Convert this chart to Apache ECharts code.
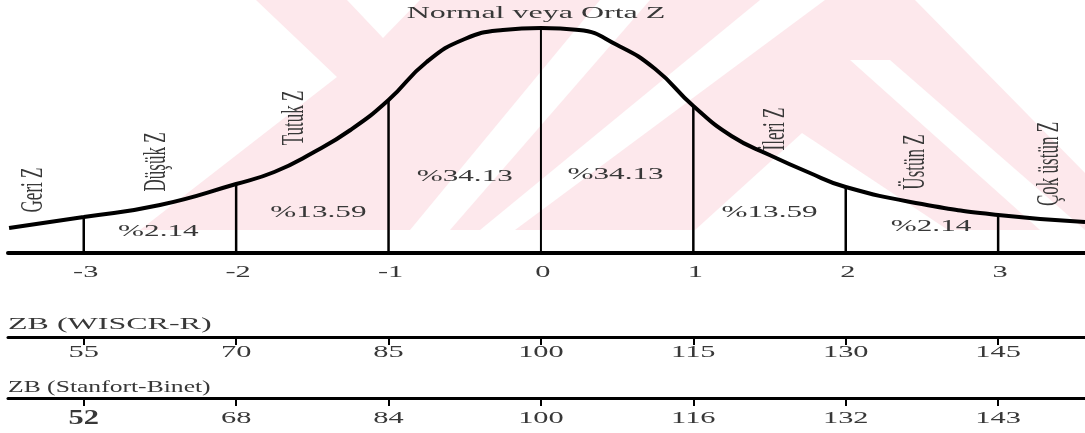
<!DOCTYPE html>
<html>
<head>
<meta charset="utf-8">
<script src="https://cdn.jsdelivr.net/npm/echarts@6/dist/echarts.min.js"></script>
<style>
  html, body { margin: 0; padding: 0; background: #fff; }
  #chart { width: 1085px; height: 433px; }
</style>
</head>
<body>
<div id="chart"></div>
<script>
// z puanları ve alt ölçekler
const zTicks = [-3, -2, -1, 0, 1, 2, 3];
const zLabels = ['-3', '-2', '-1', '0', '1', '2', '3'];
const wiscLabels = ['55', '70', '85', '100', '115', '130', '145'];
const sbLabels = ['52', '68', '84', '100', '116', '132', '143'];

// eğri (resimden okunan z / yükseklik)
const curveZ = [-3.49, -3, -2.5, -2, -1.75, -1.5, -1.25, -1, -0.75, -0.5, -0.25, 0, 0.25, 0.5, 0.75, 1, 1.25, 1.5, 1.75, 2, 2.5, 3, 3.57];
const curveH = [25, 36, 48, 69, 81, 100, 123, 153, 191, 214, 223, 225, 223, 208, 184, 147, 117, 98, 81, 66, 49, 38, 31];

// dikey çizgiler
const dividerH = [36, 69, 153, 225, 147, 66, 38];

// yüzdeler
const pctLabels = ['%2.14', '%13.59', '%34.13', '%34.13', '%13.59', '%2.14'];
const pctZ = [-2.51, -1.46, -0.50, 0.49, 1.50, 2.56];
const pctH = [21, 40, 76, 78, 40, 26];

// zeka grupları
const groupNames = ['Geri Z', 'Düşük Z', 'Tutuk Z', 'İleri Z', 'Üstün Z', 'Çok üstün Z'];
const groupZ = [-3.33, -2.52, -1.62, 1.54, 2.46, 3.34];
const groupH = [63, 91, 135, 124, 91, 89];

const zMin = -3.497, zMax = 3.57;
const FONT = '"Liberation Serif", "DejaVu Serif", serif';
const INK = '#383838';

// filigran
const pink = '#fde8ec';
const wmPink = [[256, 0], [915, 0], [1085, 173], [1085, 230], [140, 230], [337, 77]];
const wmWhite = [
  [[347, 0], [420, 0], [383, 38]],
  [[600, 0], [650, 0], [450, 230], [410, 230]],
  [[760, 0], [825, 0], [515, 230], [480, 230]],
  [[802, 133], [695, 230], [948, 230]],
  [[850, 60], [890, 60], [1085, 230], [1040, 230]]
];

function stretchedText(x, y, text, opts) {
  opts = opts || {};
  return {
    type: 'text', x: x, y: y,
    scaleX: opts.scaleX || 1, scaleY: opts.scaleY || 1,
    rotation: opts.rotation || 0,
    z: 5,
    style: {
      text: text,
      font: opts.font || ('16px ' + FONT),
      fill: INK,
      textAlign: opts.align || 'center',
      textVerticalAlign: 'middle'
    }
  };
}

const chart = echarts.init(document.getElementById('chart'));

const axisBase = {
  type: 'value', min: zMin, max: zMax,
  splitLine: { show: false },
  axisLabel: { show: false }
};

chart.setOption({
  animation: false,
  backgroundColor: '#fff',
  graphic: [
    { type: 'polygon', z: -10, shape: { points: wmPink }, style: { fill: pink } }
  ].concat(wmWhite.map(p => ({ type: 'polygon', z: -9, shape: { points: p }, style: { fill: '#fff' } })))
   .concat([
    stretchedText(536, 14, 'Normal veya Orta Z', { scaleX: 2 }),
    stretchedText(8, 325, 'ZB (WISCR-R)', { scaleX: 2, align: 'left' }),
    stretchedText(8, 388, 'ZB (Stanfort-Binet)', { scaleX: 1.6, align: 'left' })
  ]),
  grid: [
    { left: 8, right: 0, top: 13, height: 240 },
    { left: 8, right: 0, top: 300, height: 37 },
    { left: 8, right: 0, top: 361, height: 37 }
  ],
  xAxis: [
    Object.assign({}, axisBase, {
      gridIndex: 0,
      axisLine: { lineStyle: { color: '#000', width: 4 } },
      axisTick: { show: false }
    }),
    Object.assign({}, axisBase, {
      gridIndex: 1,
      axisLine: { lineStyle: { color: '#000', width: 3 } },
      axisTick: { show: true, customValues: zTicks, length: 8, lineStyle: { color: '#000', width: 2 } }
    }),
    Object.assign({}, axisBase, {
      gridIndex: 2,
      axisLine: { lineStyle: { color: '#000', width: 3 } },
      axisTick: { show: true, customValues: zTicks, length: 8, lineStyle: { color: '#000', width: 2 } }
    })
  ],
  yAxis: [
    { gridIndex: 0, type: 'value', min: 0, max: 240, show: false },
    { gridIndex: 1, type: 'value', min: 0, max: 1, show: false },
    { gridIndex: 2, type: 'value', min: 0, max: 1, show: false }
  ],
  series: [
    {
      type: 'line', xAxisIndex: 0, yAxisIndex: 0, z: 4,
      data: curveZ.map((z, i) => [z, curveH[i]]),
      showSymbol: false, smooth: 0.5,
      lineStyle: { color: '#000', width: 4 }
    },
    {
      // dikey bölme çizgileri
      type: 'custom', xAxisIndex: 0, yAxisIndex: 0, z: 3,
      data: zTicks.map((z, i) => [z, dividerH[i]]),
      renderItem: (params, api) => {
        const p0 = api.coord([api.value(0), 0]);
        const p1 = api.coord([api.value(0), api.value(1)]);
        return {
          type: 'line',
          shape: { x1: p0[0], y1: p0[1], x2: p1[0], y2: p1[1] },
          style: { stroke: '#000', lineWidth: api.value(0) === 0 ? 2 : 2.5 }
        };
      }
    },
    {
      // z etiketleri
      type: 'custom', xAxisIndex: 0, yAxisIndex: 0,
      data: zTicks.map((z, i) => [z, 0, i]),
      renderItem: (params, api) => {
        const p = api.coord([api.value(0), 0]);
        return stretchedText(p[0] + 2, p[1] + 20, zLabels[api.value(2)], { scaleX: 1.9 });
      }
    },
    {
      // yüzdeler
      type: 'custom', xAxisIndex: 0, yAxisIndex: 0,
      data: pctZ.map((z, i) => [z, pctH[i], i]),
      renderItem: (params, api) => {
        const p = api.coord([api.value(0), api.value(1)]);
        return stretchedText(p[0], p[1], pctLabels[api.value(2)], { scaleX: 1.95 });
      }
    },
    {
      // grup adları (dikey)
      type: 'custom', xAxisIndex: 0, yAxisIndex: 0,
      data: groupZ.map((z, i) => [z, groupH[i], i]),
      renderItem: (params, api) => {
        const p = api.coord([api.value(0), api.value(1)]);
        return stretchedText(p[0], p[1], groupNames[api.value(2)], {
          rotation: Math.PI / 2, scaleY: 1.9, font: '17px ' + FONT
        });
      }
    },
    {
      // WISC-R etiketleri
      type: 'custom', xAxisIndex: 1, yAxisIndex: 1,
      data: zTicks.map((z, i) => [z, 0, i]),
      renderItem: (params, api) => {
        const p = api.coord([api.value(0), 0]);
        return stretchedText(p[0], p[1] + 16, wiscLabels[api.value(2)], { scaleX: 1.9 });
      }
    },
    {
      // Stanford-Binet etiketleri
      type: 'custom', xAxisIndex: 2, yAxisIndex: 2,
      data: zTicks.map((z, i) => [z, 0, i]),
      renderItem: (params, api) => {
        const i = api.value(2);
        const p = api.coord([api.value(0), 0]);
        if (i === 0) {
          return stretchedText(p[0], p[1] + 21, sbLabels[i], { scaleX: 1.45, font: 'bold 21px ' + FONT });
        }
        return stretchedText(p[0], p[1] + 21, sbLabels[i], { scaleX: 1.9 });
      }
    }
  ]
});
</script>
</body>
</html>
